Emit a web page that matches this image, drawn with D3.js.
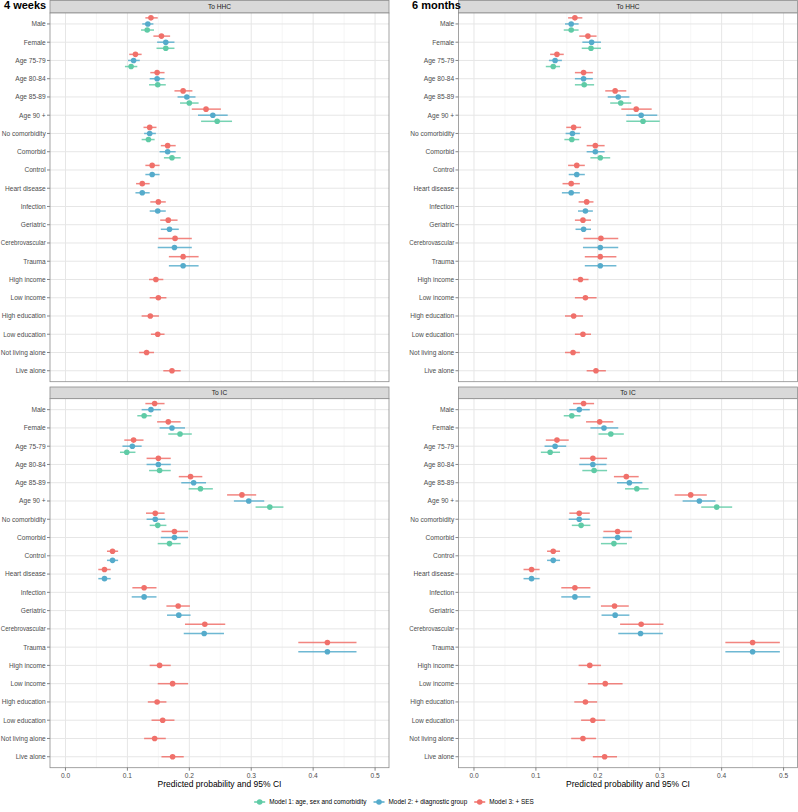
<!DOCTYPE html>
<html>
<head>
<meta charset="utf-8">
<script src="https://cdn.jsdelivr.net/npm/d3@7"></script>
<style>
  body { margin: 0; background: #fff; }
  text { font-family: "Liberation Sans", Arial, sans-serif; }
</style>
</head>
<body>
<div id="chart"></div>
<script>
// categories, top to bottom
var categories = ["Male", "Female", "Age 75-79", "Age 80-84", "Age 85-89", "Age 90 +",
  "No comorbidity", "Comorbid", "Control", "Heart disease", "Infection", "Geriatric",
  "Cerebrovascular", "Trauma", "High income", "Low income", "High education",
  "Low education", "Not living alone", "Live alone"];

var models = ["Model 1: age, sex and comorbidity", "Model 2: + diagnostic group", "Model 3: + SES"];
var modelColors = ["#5fcba6", "#55abcb", "#f0706a"];
var xTicks = [0, 0.1, 0.2, 0.3, 0.4, 0.5];

// [estimate, lower, upper]; rows missing = not in model
// 4 weeks, to HHC
var w4_hhc_m1 = [[0.132,0.122,0.143],[0.162,0.147,0.176],[0.106,0.096,0.116],[0.149,0.135,0.162],
  [0.200,0.185,0.215],[0.245,0.219,0.269],[0.134,0.123,0.144],[0.172,0.159,0.186]];
var w4_hhc_m2 = [[0.133,0.124,0.142],[0.162,0.148,0.176],[0.110,0.101,0.120],[0.148,0.136,0.160],
  [0.196,0.181,0.210],[0.238,0.214,0.262],[0.136,0.127,0.146],[0.165,0.152,0.178],
  [0.140,0.129,0.152],[0.124,0.113,0.136],[0.149,0.136,0.162],[0.168,0.154,0.183],
  [0.176,0.149,0.204],[0.190,0.167,0.215]];
var w4_hhc_m3 = [[0.138,0.129,0.149],[0.155,0.142,0.169],[0.113,0.103,0.123],[0.148,0.137,0.160],
  [0.190,0.176,0.205],[0.227,0.204,0.251],[0.136,0.126,0.147],[0.165,0.154,0.178],
  [0.140,0.129,0.152],[0.124,0.114,0.136],[0.150,0.137,0.162],[0.166,0.153,0.181],
  [0.177,0.150,0.204],[0.190,0.167,0.215],[0.146,0.135,0.158],[0.150,0.136,0.163],
  [0.137,0.123,0.151],[0.149,0.138,0.160],[0.131,0.119,0.143],[0.172,0.158,0.186]];
// 4 weeks, to IC
var w4_ic_m1 = [[0.127,0.116,0.139],[0.185,0.166,0.204],[0.099,0.088,0.113],[0.152,0.135,0.170],
  [0.218,0.199,0.238],[0.330,0.307,0.352],[0.149,0.136,0.163],[0.168,0.149,0.186]];
var w4_ic_m2 = [[0.138,0.123,0.154],[0.172,0.152,0.193],[0.108,0.092,0.123],[0.150,0.131,0.170],
  [0.207,0.187,0.227],[0.296,0.272,0.321],[0.145,0.131,0.161],[0.176,0.154,0.198],
  [0.076,0.067,0.085],[0.063,0.053,0.073],[0.127,0.107,0.147],[0.183,0.164,0.202],
  [0.224,0.191,0.256],[0.423,0.376,0.470]];
var w4_ic_m3 = [[0.144,0.129,0.160],[0.166,0.148,0.186],[0.110,0.095,0.126],[0.150,0.131,0.170],
  [0.202,0.183,0.221],[0.285,0.261,0.308],[0.145,0.130,0.160],[0.176,0.155,0.198],
  [0.076,0.067,0.085],[0.063,0.053,0.073],[0.127,0.108,0.147],[0.182,0.163,0.201],
  [0.225,0.193,0.258],[0.423,0.376,0.470],[0.152,0.136,0.170],[0.173,0.149,0.198],
  [0.148,0.133,0.163],[0.157,0.139,0.176],[0.144,0.127,0.162],[0.173,0.155,0.191]];
// 6 months, to HHC
var m6_hhc_m1 = [[0.157,0.145,0.169],[0.189,0.174,0.205],[0.128,0.116,0.139],[0.178,0.163,0.194],
  [0.237,0.220,0.254],[0.273,0.246,0.300],[0.158,0.146,0.170],[0.204,0.188,0.220]];
var m6_hhc_m2 = [[0.157,0.147,0.169],[0.190,0.175,0.205],[0.131,0.121,0.142],[0.177,0.163,0.192],
  [0.233,0.216,0.251],[0.270,0.246,0.296],[0.159,0.148,0.171],[0.196,0.182,0.211],
  [0.166,0.153,0.179],[0.157,0.142,0.171],[0.180,0.168,0.192],[0.177,0.164,0.189],
  [0.204,0.176,0.233],[0.204,0.179,0.230]];
var m6_hhc_m3 = [[0.163,0.152,0.175],[0.184,0.170,0.198],[0.134,0.123,0.145],[0.177,0.163,0.192],
  [0.228,0.212,0.246],[0.262,0.238,0.287],[0.161,0.149,0.173],[0.196,0.182,0.211],
  [0.166,0.152,0.179],[0.157,0.143,0.171],[0.182,0.169,0.193],[0.176,0.163,0.189],
  [0.205,0.177,0.233],[0.204,0.179,0.230],[0.172,0.160,0.185],[0.180,0.163,0.198],
  [0.161,0.147,0.176],[0.176,0.163,0.189],[0.160,0.147,0.171],[0.197,0.182,0.213]];
// 6 months, to IC
var m6_ic_m1 = [[0.158,0.145,0.172],[0.221,0.201,0.242],[0.123,0.108,0.139],[0.194,0.175,0.215],
  [0.263,0.244,0.282],[0.392,0.367,0.417],[0.173,0.158,0.188],[0.226,0.205,0.247]];
var m6_ic_m2 = [[0.170,0.154,0.187],[0.210,0.188,0.233],[0.131,0.114,0.149],[0.192,0.170,0.214],
  [0.251,0.231,0.272],[0.364,0.337,0.390],[0.170,0.153,0.187],[0.232,0.208,0.255],
  [0.128,0.118,0.139],[0.093,0.080,0.106],[0.163,0.141,0.188],[0.228,0.206,0.251],
  [0.269,0.233,0.305],[0.450,0.406,0.494]];
var m6_ic_m3 = [[0.177,0.160,0.194],[0.203,0.181,0.225],[0.134,0.116,0.153],[0.192,0.171,0.215],
  [0.246,0.226,0.266],[0.350,0.324,0.376],[0.170,0.154,0.187],[0.232,0.209,0.255],
  [0.128,0.118,0.139],[0.093,0.080,0.106],[0.163,0.141,0.188],[0.227,0.205,0.250],
  [0.270,0.236,0.306],[0.450,0.406,0.494],[0.187,0.169,0.205],[0.212,0.184,0.240],
  [0.180,0.162,0.199],[0.192,0.173,0.212],[0.176,0.157,0.197],[0.211,0.192,0.231]];

var W = 798, H = 812;
var svg = d3.select("#chart").append("svg")
    .attr("width", W)
    .attr("height", H);

// columns: one per follow-up period
var columns = [
  { title: "4 weeks", titleX: 4, left: 50, right: 389,
    facets: [{ name: "To HHC", series: [w4_hhc_m1, w4_hhc_m2, w4_hhc_m3] },
             { name: "To IC",  series: [w4_ic_m1,  w4_ic_m2,  w4_ic_m3] }] },
  { title: "6 months", titleX: 412, left: 458.5, right: 797.5,
    facets: [{ name: "To HHC", series: [m6_hhc_m1, m6_hhc_m2, m6_hhc_m3] },
             { name: "To IC",  series: [m6_ic_m1,  m6_ic_m2,  m6_ic_m3] }] }
];

// facet rows: strip top, panel top, panel bottom
var facetBoxes = [
  { stripTop: 0.5, panelTop: 13, panelBottom: 381.7 },
  { stripTop: 387, panelTop: 398.7, panelBottom: 767.7 }
];

var borderCol = "#8c8c8c";
var labelSize = "6.6px";

columns.forEach(function(col) {
  var x = d3.scaleLinear().domain([-0.025, 0.5225]).range([col.left, col.right]);

  col.facets.forEach(function(facet, fi) {
    var box = facetBoxes[fi];
    var y = d3.scalePoint().domain(categories)
        .range([box.panelTop, box.panelBottom]).padding(0.6);
    var step = y.step();

    var g = svg.append("g");

    // strip
    g.append("rect")
        .attr("x", col.left).attr("y", box.stripTop)
        .attr("width", col.right - col.left).attr("height", box.panelTop - box.stripTop)
        .attr("fill", "#d9d9d9").attr("stroke", borderCol).attr("stroke-width", 0.8);
    g.append("text")
        .attr("x", (col.left + col.right) / 2)
        .attr("y", (box.stripTop + box.panelTop) / 2 + 2.4)
        .attr("text-anchor", "middle")
        .style("font-size", labelSize).attr("fill", "#1a1a1a")
        .text(facet.name);

    // panel background + grid
    g.append("rect")
        .attr("x", col.left).attr("y", box.panelTop)
        .attr("width", col.right - col.left).attr("height", box.panelBottom - box.panelTop)
        .attr("fill", "#fff");

    var minor = [0.05, 0.15, 0.25, 0.35, 0.45];
    g.selectAll(".minor").data(minor).enter().append("line")
        .attr("x1", d => x(d)).attr("x2", d => x(d))
        .attr("y1", box.panelTop).attr("y2", box.panelBottom)
        .attr("stroke", "#f0f0f0").attr("stroke-width", 0.6);
    g.selectAll(".vmajor").data(xTicks).enter().append("line")
        .attr("x1", d => x(d)).attr("x2", d => x(d))
        .attr("y1", box.panelTop).attr("y2", box.panelBottom)
        .attr("stroke", "#e6e6e6").attr("stroke-width", 1);
    g.selectAll(".hmajor").data(categories).enter().append("line")
        .attr("x1", col.left).attr("x2", col.right)
        .attr("y1", d => y(d)).attr("y2", d => y(d))
        .attr("stroke", "#e6e6e6").attr("stroke-width", 1);

    // y axis labels + ticks
    g.selectAll(".ytick").data(categories).enter().append("line")
        .attr("x1", col.left - 3).attr("x2", col.left)
        .attr("y1", d => y(d)).attr("y2", d => y(d))
        .attr("stroke", "#333").attr("stroke-width", 0.6);
    var labX = col.left - 4.3;
    g.selectAll(".ylab").data(categories).enter().append("text")
        .attr("x", labX)
        .attr("y", d => y(d) + 2.4)
        .attr("text-anchor", "end")
        .style("font-size", labelSize).attr("fill", "#4d4d4d")
        .text(d => d)
        .each(function() {
          // squeeze the longest labels so they stay inside the figure
          var room = labX - (col.left > 100 ? col.left - 50 : 0) - 0.8;
          var w = this.getComputedTextLength();
          if (w > room) {
            d3.select(this).attr("textLength", room).attr("lengthAdjust", "spacingAndGlyphs");
          }
        });

    // marks: dodge by number of models present in each row
    categories.forEach(function(cat, ci) {
      var present = [2, 1, 0].filter(m => facet.series[m][ci]);
      var n = present.length;
      present.forEach(function(m, k) {
        var v = facet.series[m][ci];
        var yy = y(cat) + step * (k - (n - 1) / 2) / n;
        g.append("line")
            .attr("x1", x(v[1])).attr("x2", x(v[2]))
            .attr("y1", yy).attr("y2", yy)
            .attr("stroke", modelColors[m]).attr("stroke-width", 1.5)
            .attr("stroke-opacity", 0.85);
        g.append("circle")
            .attr("cx", x(v[0])).attr("cy", yy).attr("r", 2.8)
            .attr("fill", modelColors[m]);
      });
    });

    // panel border
    g.append("rect")
        .attr("x", col.left).attr("y", box.panelTop)
        .attr("width", col.right - col.left).attr("height", box.panelBottom - box.panelTop)
        .attr("fill", "none").attr("stroke", borderCol).attr("stroke-width", 0.8);

    // x axis only under the bottom facet
    if (fi === 1) {
      g.selectAll(".xtick").data(xTicks).enter().append("line")
          .attr("x1", d => x(d)).attr("x2", d => x(d))
          .attr("y1", box.panelBottom).attr("y2", box.panelBottom + 3)
          .attr("stroke", "#333").attr("stroke-width", 0.6);
      g.selectAll(".xlab").data(xTicks).enter().append("text")
          .attr("x", d => x(d)).attr("y", box.panelBottom + 10)
          .attr("text-anchor", "middle")
          .style("font-size", labelSize).attr("fill", "#4d4d4d")
          .text(d3.format(".1f"));
      g.append("text")
          .attr("x", (col.left + col.right) / 2).attr("y", box.panelBottom + 19)
          .attr("text-anchor", "middle")
          .style("font-size", "8.5px").attr("fill", "#000")
          .text("Predicted probability and 95% CI");
    }
  });

  // column title drawn last so it sits over the strip edge
  svg.append("text")
      .attr("x", col.titleX)
      .attr("y", 9)
      .style("font-size", "11px")
      .style("font-weight", "bold")
      .text(col.title);
});

// legend, centred at the bottom
var legend = svg.append("g");
var items = legend.selectAll(".legend-item")
    .data(models)
    .enter()
    .append("g")
    .attr("class", "legend-item");
items.append("line")
    .attr("x1", 0).attr("x2", 11).attr("y1", 0).attr("y2", 0)
    .attr("stroke", (d, i) => modelColors[i]).attr("stroke-width", 1.5);
items.append("circle")
    .attr("cx", 5.5).attr("cy", 0).attr("r", 2.8)
    .attr("fill", (d, i) => modelColors[i]);
items.append("text")
    .attr("x", 15).attr("y", 2.3)
    .style("font-size", "6.4px").attr("fill", "#000")
    .text(d => d);

var offs = 0, positions = [];
items.each(function() {
  positions.push(offs);
  var tw = d3.select(this).select("text").node().getComputedTextLength();
  offs += 15 + tw + 7;
});
var totalW = offs - 7;
items.attr("transform", (d, i) => "translate(" + positions[i] + ",0)");
legend.attr("transform", "translate(" + (394 - totalW / 2) + ",802)");
</script>
</body>
</html>
